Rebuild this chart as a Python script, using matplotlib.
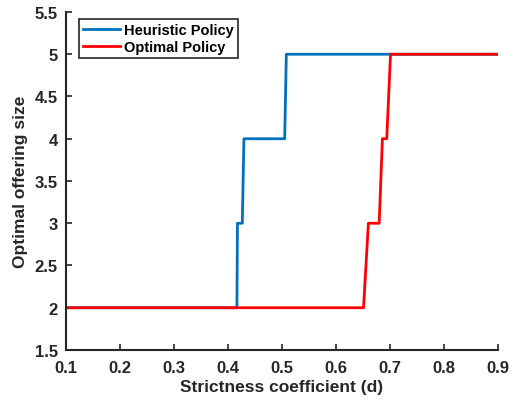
import matplotlib
matplotlib.use("Agg")
import matplotlib.pyplot as plt

# step curves
heur_d = [0.1, 0.4165, 0.4175, 0.4265, 0.4295, 0.505, 0.508, 0.9]
heur_size = [2, 2, 3, 3, 4, 4, 5, 5]
opt_d = [0.1, 0.651, 0.66, 0.68, 0.686, 0.694, 0.701, 0.9]
opt_size = [2, 2, 3, 3, 4, 4, 5, 5]

xticks = [0.1, 0.2, 0.3, 0.4, 0.5, 0.6, 0.7, 0.8, 0.9]
yticks = [1.5, 2, 2.5, 3, 3.5, 4, 4.5, 5, 5.5]


def main():
	plt.rcParams['font.family'] = ['Liberation Sans', 'DejaVu Sans']
	fig = plt.figure(figsize=(5.13, 4.06), dpi=100)
	ax = fig.add_axes([0.1287, 0.1355, 0.842, 0.8325])

	ax.plot(heur_d, heur_size, color="#0072BD", lw=2, label="Heuristic Policy")
	ax.plot(opt_d, opt_size, color="#FF0000", lw=2, label="Optimal Policy")

	ax.set_xlim(0.1, 0.9)
	ax.set_ylim(1.5, 5.5)
	ax.set_xticks(xticks)
	ax.set_xticklabels([("%g" % t) for t in xticks], fontweight="bold", fontsize=12)
	ax.set_yticks(yticks)
	ax.set_yticklabels([("%g" % t) for t in yticks], fontweight="bold", fontsize=12)
	ax.tick_params(direction="in", length=4, width=1.2, color="#262626", labelcolor="#262626")
	ax.tick_params(axis="x", pad=7)
	ax.tick_params(axis="y", pad=6)

	for s in ["top", "right"]:
		ax.spines[s].set_visible(False)
	for s in ["left", "bottom"]:
		ax.spines[s].set_linewidth(1.5)
		ax.spines[s].set_color("#262626")

	ax.set_xlabel("Strictness coefficient (d)", fontweight="bold", fontsize=12.5, color="#262626", labelpad=3)
	ax.set_ylabel("Optimal offering size", fontweight="bold", fontsize=12.5, color="#262626", labelpad=5)

	leg = ax.legend(loc="upper left", bbox_to_anchor=(0.03, 0.98), prop={"weight": "bold", "size": 10.5},
		fancybox=False, framealpha=1, edgecolor="#262626", handlelength=2.5, borderpad=0.3,
		labelspacing=0.2, handletextpad=0.3, borderaxespad=0)
	leg.get_frame().set_linewidth(1.2)

	fig.savefig("out.png", dpi=100)


if __name__ == '__main__':
	main()
